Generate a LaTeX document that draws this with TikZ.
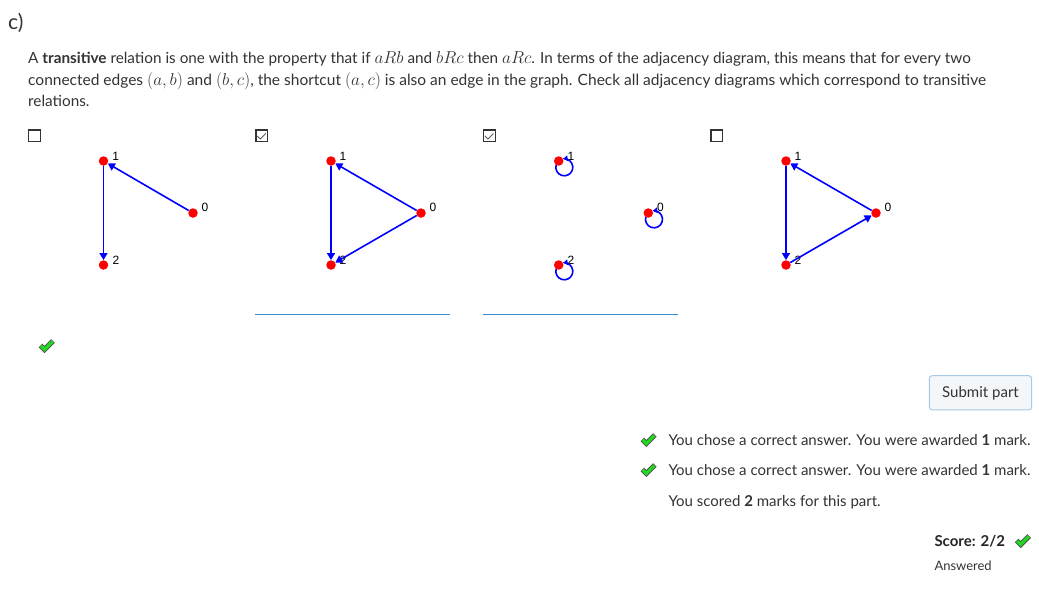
\documentclass[tikz,border=0pt]{standalone}
\usepackage{fontspec}
\setmainfont{Lato}
\newfontfamily\labelfont{Liberation Sans}
\usetikzlibrary{arrows.meta}
\definecolor{txt}{HTML}{333333}
\definecolor{uline}{HTML}{3B8BD0}
\definecolor{btnborder}{HTML}{A9C8E8}
\definecolor{btnfill}{HTML}{F4F7FA}
\definecolor{okgreen}{HTML}{22D822}
\definecolor{edgeblue}{HTML}{0000FF}
\newcommand\mth[1]{{\fontsize{17.28}{18}\selectfont$#1$}}
\begin{document}
\begin{tikzpicture}[x=1pt,y=-1pt,
  vtx/.style={circle,fill=red,inner sep=0pt,minimum size=9.5pt},
  vlab/.style={font=\labelfont\fontsize{12}{13}\selectfont,inner sep=0pt,text=black},
  relarrow/.style={draw=edgeblue,line width=1.6pt,-{Triangle[length=7pt,width=8pt]}},
  selfloop/.style={draw=edgeblue,line width=1.6pt,-{Triangle[length=4.5pt,width=5.5pt]}},
  chkbox/.style={draw=txt,line width=1.1pt,inner sep=0pt,minimum size=11.5pt},
  tick/.style={draw=txt!80,line width=0.9pt},
  para/.style={anchor=base west,inner sep=0pt,text=txt,font=\fontsize{15.3}{18}\selectfont},
  fb/.style={anchor=base west,inner sep=0pt,text=txt,font=\fontsize{15}{18}\selectfont},
  underl/.style={draw=uline,line width=1pt},
  btn/.style={draw=btnborder,fill=btnfill,rounded corners=3pt,line width=1pt,text=txt,font=\fontsize{15}{18}\selectfont,inner sep=0pt},
  gcheck/.pic={
    \draw[line width=5pt,draw=black!70,line join=miter] (-6,-0.5) -- (-2,3.5) -- (6.5,-5);
    \draw[line width=3.2pt,draw=okgreen,line join=miter] (-5.6,-0.1) -- (-2,3.5) -- (6.1,-4.6);
  }
]
\useasboundingbox[fill=white] (0,0) rectangle (1039,590);

% heading and paragraph
\node[anchor=base west,inner sep=0pt,text=txt,font=\fontsize{21}{24}\selectfont] (head) at (8,29.3) {c)};
\node[para] (p1) at (28,63.5) {A \textbf{transitive} relation is one with the property that if \mth{aRb} and \mth{bRc} then \mth{aRc}. In terms of the adjacency diagram, this means that for every two};
\node[para,font=\fontsize{15.5}{18}\selectfont] (p2) at (28,85) {connected edges \mth{(a,b)} and \mth{(b,c)}, the shortcut \mth{(a,c)} is also an edge in the graph. Check all adjacency diagrams which correspond to transitive};
\node[para] (p3) at (28,106.5) {relations.};

% checkboxes
\node[chkbox] (cb1) at (34.3,135.7) {};
\node[chkbox] (cb2) at (261.7,135.7) {};
\node[chkbox] (cb3) at (489.3,135.7) {};
\node[chkbox] (cb4) at (716.7,135.7) {};
\draw[tick] ([shift={(-4.4,0.3)}]cb2.center) -- ++(3,3) -- ++(5.5,-5.5);
\draw[tick] ([shift={(-4.4,0.3)}]cb3.center) -- ++(3,3) -- ++(5.5,-5.5);

% graph 1
\node[vtx] (a1) at (103.5,161) {};
\node[vtx] (a0) at (193,213) {};
\node[vtx] (a2) at (103.5,265) {};
\node[vlab] (la1) at (115.7,156.7) {1};
\node[vlab] (la0) at (205,207.7) {0};
\node[vlab] (la2) at (116,260) {2};
\draw[relarrow] (a0) -- (a1);
\draw[relarrow] (a1) -- (a2);

% graph 2
\node[vtx] (b1) at (331,161) {};
\node[vtx] (b0) at (421,213) {};
\node[vtx] (b2) at (331,265) {};
\node[vlab] (lb1) at (343,156.7) {1};
\node[vlab] (lb0) at (433,207.7) {0};
\node[vlab] (lb2) at (343,260) {2};
\draw[relarrow] (b0) -- (b1);
\draw[relarrow] (b1) -- (b2);
\draw[relarrow] (b0) -- (b2);
\draw[underl] (255,314.3) -- (449.7,314.3);

% graph 3
\node[vlab] (lc1) at (571,156.7) {1};
\node[vlab] (lc0) at (660.5,207.7) {0};
\node[vlab] (lc2) at (571,260) {2};
\coordinate (c1) at (564.3,167.3);
\coordinate (c0) at (654,219.3);
\coordinate (c2) at (564.3,271.3);
\draw[selfloop] (c1) ++(162:8.5pt) arc[start angle=162,end angle=458,radius=8.5pt];
\draw[selfloop] (c0) ++(162:8.5pt) arc[start angle=162,end angle=458,radius=8.5pt];
\draw[selfloop] (c2) ++(162:8.5pt) arc[start angle=162,end angle=458,radius=8.5pt];
\node[vtx] (k1) at (558.7,161) {};
\node[vtx] (k0) at (648.3,213) {};
\node[vtx] (k2) at (558.7,265) {};
\draw[underl] (483.3,314.3) -- (677.7,314.3);

% graph 4
\node[vtx] (d1) at (786,161) {};
\node[vtx] (d0) at (876,213) {};
\node[vtx] (d2) at (786,265) {};
\node[vlab] (ld1) at (798,156.7) {1};
\node[vlab] (ld0) at (888,207.7) {0};
\node[vlab] (ld2) at (798,260) {2};
\draw[relarrow] (d0) -- (d1);
\draw[relarrow] (d1) -- (d2);
\draw[relarrow] (d2) -- (d0);

% check under first option
\pic at (46.5,346) {gcheck};

% submit button
\node[btn,minimum width=102.4pt,minimum height=34.3pt] (submit) at (980.5,392.8) {Submit part};

% feedback
\pic at (648.3,440) {gcheck};
\pic at (648.3,470) {gcheck};
\node[fb] (f1) at (668.3,445) {You chose a correct answer. You were awarded \textbf{1} mark.};
\node[fb] (f2) at (668.3,475.5) {You chose a correct answer. You were awarded \textbf{1} mark.};
\node[fb] (f3) at (668.3,506.7) {You scored \textbf{2} marks for this part.};

% score
\node[anchor=base west,inner sep=0pt,text=black!85,font=\bfseries\fontsize{15}{18}\selectfont] (score) at (934.3,546.5) {Score: 2/2};
\pic at (1022.7,541) {gcheck};
\node[anchor=base west,inner sep=0pt,text=txt,font=\fontsize{13}{16}\selectfont] (ans) at (934.3,570) {Answered};
\end{tikzpicture}
\end{document}
